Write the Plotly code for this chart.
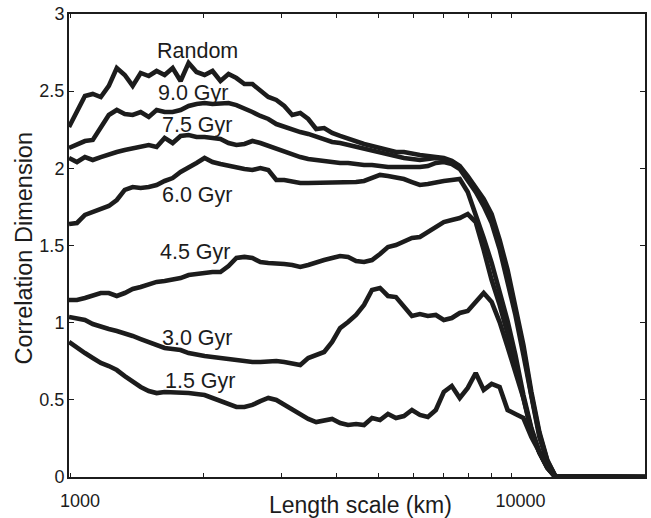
import math
import plotly.graph_objects as go

# Shared length-scale sample points (km)
length_km = [990, 1032, 1076, 1121, 1169, 1219, 1271, 1325, 1381, 1440, 1502, 1565,
             1632, 1702, 1774, 1850, 1928, 2011, 2096, 2185, 2279, 2375, 2477, 2582,
             2692, 2806, 2926, 3050, 3180, 3316, 3457, 3604, 3757, 3917, 4084, 4258,
             4439, 4628, 4825, 5031, 5245, 5468, 5701, 5944, 6197, 6460, 6735, 7022,
             7321, 7633, 7958, 8297, 8650, 9018, 9402, 9802, 10210, 10645, 11098,
             11571, 12063, 12576, 20100]

dim_random = [2.268, 2.365, 2.469, 2.482, 2.462, 2.534, 2.650, 2.605, 2.534, 2.618, 2.598, 2.631,
              2.605, 2.650, 2.566, 2.683, 2.624, 2.605, 2.631, 2.566, 2.611, 2.585, 2.546, 2.546,
              2.501, 2.462, 2.443, 2.404, 2.346, 2.359, 2.320, 2.255, 2.261, 2.229, 2.210, 2.190,
              2.171, 2.158, 2.145, 2.132, 2.119, 2.106, 2.106, 2.093, 2.086, 2.080, 2.073, 2.067,
              2.048, 2.015, 1.950, 1.879, 1.801, 1.704, 1.536, 1.341, 1.115, 0.855, 0.551,
              0.292, 0.110, 0.006, 0.0]

dim_9_0 = [2.132, 2.151, 2.177, 2.184, 2.268, 2.346, 2.378, 2.352, 2.346, 2.365, 2.333, 2.378,
           2.365, 2.365, 2.378, 2.404, 2.417, 2.423, 2.417, 2.417, 2.423, 2.410, 2.391, 2.365,
           2.339, 2.320, 2.287, 2.268, 2.248, 2.235, 2.223, 2.203, 2.184, 2.171, 2.164, 2.151,
           2.138, 2.132, 2.119, 2.106, 2.093, 2.080, 2.067, 2.061, 2.054, 2.061, 2.067, 2.061,
           2.041, 2.009, 1.937, 1.866, 1.782, 1.678, 1.510, 1.315, 1.089, 0.829, 0.531,
           0.279, 0.104, 0.006, 0.0]

dim_7_5 = [2.067, 2.041, 2.073, 2.054, 2.073, 2.093, 2.106, 2.119, 2.132, 2.145, 2.151, 2.138,
           2.197, 2.164, 2.210, 2.216, 2.203, 2.203, 2.197, 2.190, 2.164, 2.151, 2.158, 2.177,
           2.164, 2.145, 2.132, 2.112, 2.086, 2.073, 2.061, 2.054, 2.048, 2.041, 2.035, 2.035,
           2.028, 2.022, 2.022, 2.015, 2.009, 2.009, 2.009, 2.002, 2.009, 2.015, 2.035, 2.041,
           2.028, 1.996, 1.924, 1.847, 1.756, 1.646, 1.477, 1.276, 1.050, 0.791, 0.505,
           0.259, 0.097, 0.006, 0.0]

dim_6_0 = [1.639, 1.646, 1.698, 1.717, 1.737, 1.756, 1.795, 1.860, 1.879, 1.873, 1.879, 1.892,
           1.918, 1.937, 1.976, 2.002, 2.035, 2.067, 2.041, 2.028, 2.015, 2.009, 1.996, 1.989,
           2.002, 1.989, 1.924, 1.924, 1.911, 1.905, 1.905, 1.905, 1.905, 1.911, 1.905, 1.905,
           1.911, 1.918, 1.937, 1.957, 1.950, 1.944, 1.931, 1.911, 1.892, 1.899, 1.911, 1.918,
           1.924, 1.931, 1.847, 1.704, 1.549, 1.387, 1.212, 1.011, 0.791, 0.531, 0.318,
           0.162, 0.058, 0.0, 0.0]

dim_4_5 = [1.147, 1.147, 1.160, 1.179, 1.192, 1.192, 1.173, 1.192, 1.218, 1.231, 1.251, 1.264,
           1.270, 1.276, 1.289, 1.309, 1.315, 1.328, 1.328, 1.328, 1.367, 1.419, 1.426, 1.419,
           1.393, 1.387, 1.387, 1.380, 1.374, 1.361, 1.374, 1.393, 1.406, 1.419, 1.432, 1.426,
           1.400, 1.393, 1.406, 1.445, 1.490, 1.503, 1.529, 1.549, 1.555, 1.588, 1.626, 1.652,
           1.665, 1.678, 1.704, 1.652, 1.471, 1.276, 1.115, 0.940, 0.745, 0.512, 0.305,
           0.156, 0.058, 0.0, 0.0]

dim_3_0 = [1.037, 1.030, 1.017, 0.991, 0.972, 0.959, 0.946, 0.933, 0.914, 0.894, 0.875, 0.849,
           0.836, 0.829, 0.823, 0.803, 0.791, 0.784, 0.778, 0.771, 0.771, 0.758, 0.752, 0.745,
           0.745, 0.752, 0.752, 0.745, 0.732, 0.726, 0.771, 0.791, 0.810, 0.875, 0.965, 1.004,
           1.050, 1.115, 1.212, 1.225, 1.173, 1.166, 1.102, 1.043, 1.056, 1.043, 1.050, 1.017,
           1.030, 1.063, 1.076, 1.134, 1.192, 1.134, 1.004, 0.842, 0.674, 0.512, 0.292,
           0.162, 0.065, 0.0, 0.0]

dim_1_5 = [0.875, 0.836, 0.803, 0.771, 0.739, 0.719, 0.693, 0.654, 0.616, 0.583, 0.557, 0.544,
           0.551, 0.551, 0.551, 0.544, 0.538, 0.531, 0.512, 0.492, 0.467, 0.454, 0.454, 0.467,
           0.492, 0.512, 0.499, 0.467, 0.434, 0.408, 0.376, 0.356, 0.369, 0.376, 0.350, 0.337,
           0.343, 0.337, 0.382, 0.369, 0.408, 0.382, 0.395, 0.434, 0.402, 0.389, 0.434, 0.551,
           0.590, 0.512, 0.577, 0.674, 0.564, 0.603, 0.583, 0.434, 0.408, 0.382, 0.259,
           0.156, 0.065, 0.0, 0.0]

curve_names = ["Random", "9.0 Gyr", "7.5 Gyr", "6.0 Gyr", "4.5 Gyr", "3.0 Gyr", "1.5 Gyr"]
curve_values = [dim_random, dim_9_0, dim_7_5, dim_6_0, dim_4_5, dim_3_0, dim_1_5]

# Label anchor positions (km, dimension)
label_km = [1549, 1556, 1591, 1591, 1574, 1597, 1614]
label_dim = [2.760, 2.491, 2.281, 1.827, 1.458, 0.901, 0.622]

x_tickvals = [1000, 2000, 3000, 4000, 5000, 6000, 7000, 8000, 9000, 10000]
x_ticktext = ["1000", "", "", "", "", "", "", "", "", "10000"]
y_tickvals = [0, 0.5, 1, 1.5, 2, 2.5, 3]
y_ticktext = ["0", "0.5", "1", "1.5", "2", "2.5", "3"]

ink = "#1c1c1c"
font_family = "Liberation Sans, Arial, Helvetica, sans-serif"

fig = go.Figure()
for name, vals in zip(curve_names, curve_values):
    fig.add_trace(go.Scatter(x=length_km, y=vals, mode="lines", name=name,
                             line=dict(color=ink, width=4.6), showlegend=False,
                             hoverinfo="skip"))

for name, lx, ly in zip(curve_names, label_km, label_dim):
    fig.add_annotation(x=math.log10(lx), y=ly, xref="x", yref="y", text=name,
                       showarrow=False, xanchor="left", yanchor="middle",
                       font=dict(size=21.5, color=ink, family=font_family))

# Axis titles
fig.add_annotation(x=0.5, y=0, xref="paper", yref="paper", text="Length scale (km)",
                   showarrow=False, xanchor="center", yanchor="middle", yshift=-28,
                   xshift=3, borderpad=0,
                   font=dict(size=23, color=ink, family=font_family))
fig.add_annotation(x=0, y=0.5, xref="paper", yref="paper", text="Correlation Dimension",
                   showarrow=False, xanchor="center", yanchor="middle", xshift=-46,
                   yshift=-3, textangle=-90,
                   font=dict(size=23.5, color=ink, family=font_family))

fig.update_layout(
    width=651, height=518,
    margin=dict(l=69, r=4, t=14, b=41),
    paper_bgcolor="white", plot_bgcolor="white",
    font=dict(family=font_family, color=ink, size=18),
)
fig.update_xaxes(type="log", range=[math.log10(990), math.log10(20100)],
                 tickvals=x_tickvals, ticktext=x_ticktext,
                 ticks="inside", ticklen=4, tickwidth=1.2, tickcolor=ink,
                 showline=True, linewidth=2, linecolor=ink, mirror="ticks",
                 showgrid=False, zeroline=False, ticklabelshift=9,
                 ticklabelstandoff=6, tickfont=dict(size=18, color=ink))
fig.update_yaxes(range=[0, 3], tickvals=y_tickvals, ticktext=y_ticktext,
                 ticks="inside", ticklen=5, tickwidth=1.2, tickcolor=ink,
                 showline=True, linewidth=2, linecolor=ink, mirror="ticks",
                 showgrid=False, zeroline=False, ticklabelstandoff=-1,
                 tickfont=dict(size=18, color=ink))

fig.write_html("out.html")
